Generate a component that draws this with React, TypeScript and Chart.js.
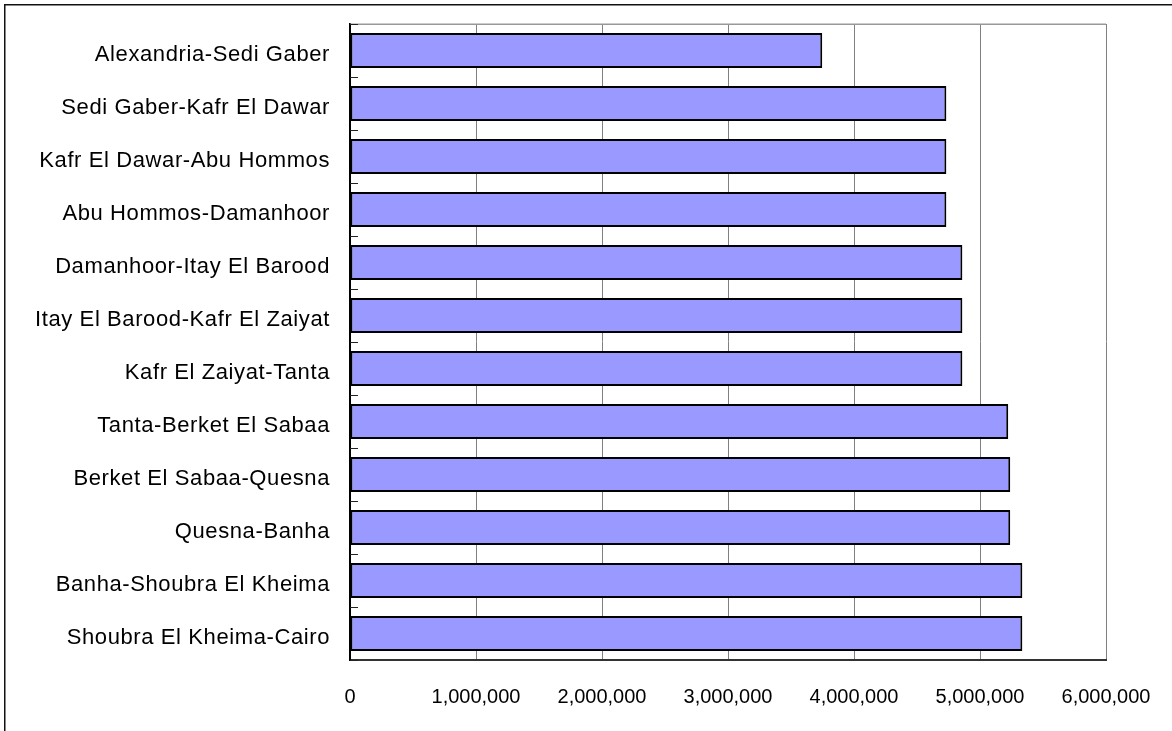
import React, { useEffect, useRef } from "react";
import { Chart, registerables } from "chart.js";

Chart.register(...registerables);

// Railway sections, north (Alexandria) to south (Cairo)
const sections: string[] = [
  "Alexandria-Sedi Gaber",
  "Sedi Gaber-Kafr El Dawar",
  "Kafr El Dawar-Abu Hommos",
  "Abu Hommos-Damanhoor",
  "Damanhoor-Itay El Barood",
  "Itay El Barood-Kafr El Zaiyat",
  "Kafr El Zaiyat-Tanta",
  "Tanta-Berket El Sabaa",
  "Berket El Sabaa-Quesna",
  "Quesna-Banha",
  "Banha-Shoubra El Kheima",
  "Shoubra El Kheima-Cairo",
];

// Value per section
const sectionValues: number[] = [
  3748000, 4733000, 4733000, 4733000, 4860000, 4860000, 4860000, 5224000,
  5240000, 5240000, 5336000, 5336000,
];

// Horizontal axis range and tick step
const axisMin = 0;
const axisMax = 6000000;
const axisStep = 1000000;

const W = 1172;
const H = 731;
const LABEL_FONT = "'Liberation Sans', Arial, sans-serif";

const formatNumber = (v: number) =>
  Math.round(v)
    .toString()
    .replace(/\B(?=(\d{3})+(?!\d))/g, ",");

// Frame around the figure, top border of the plot and short category ticks
const decorations = {
  id: "decorations",
  beforeDraw(chart: any) {
    const ctx = chart.ctx;
    ctx.save();
    ctx.fillStyle = "#ffffff";
    ctx.fillRect(0, 0, chart.width, chart.height);
    ctx.strokeStyle = "#111111";
    ctx.lineWidth = 1.5;
    ctx.beginPath();
    ctx.moveTo(4.75, chart.height + 5);
    ctx.lineTo(4.75, 4.75);
    ctx.lineTo(chart.width + 5, 4.75);
    ctx.stroke();
    ctx.restore();
  },
  afterDatasetsDraw(chart: any) {
    // slightly looser tracking for the category names drawn next
    (chart.ctx as any).letterSpacing = "0.6px";
  },
  afterDraw(chart: any) {
    const ctx = chart.ctx;
    (ctx as any).letterSpacing = "0px";
    const a = chart.chartArea;
    ctx.save();
    // top edge of the plot
    ctx.strokeStyle = "#999999";
    ctx.lineWidth = 1.5;
    ctx.beginPath();
    ctx.moveTo(a.left, a.top + 0.25);
    ctx.lineTo(a.right, a.top + 0.25);
    ctx.stroke();
    // category boundary ticks on the inside of the vertical axis
    const n = sections.length;
    const step = (a.bottom - a.top) / n;
    ctx.strokeStyle = "#222222";
    ctx.lineWidth = 1;
    for (let i = 0; i <= n; i++) {
      const y = Math.round(a.top + i * step) + 0.5;
      ctx.beginPath();
      ctx.moveTo(a.left, y);
      ctx.lineTo(a.left + 8, y);
      ctx.stroke();
    }
    ctx.restore();
  },
};

export default function App() {
  const canvasRef = useRef<HTMLCanvasElement | null>(null);

  useEffect(() => {
    if (!canvasRef.current) return;
    const chart = new Chart(canvasRef.current, {
      type: "bar",
      data: {
        labels: sections,
        datasets: [
          {
            data: sectionValues,
            backgroundColor: "#9999ff",
            borderColor: "#000000",
            borderWidth: 2,
            borderSkipped: false,
            barPercentage: 0.66,
            categoryPercentage: 1,
          },
        ],
      },
      options: {
        indexAxis: "y",
        responsive: false,
        animation: false,
        events: [],
        layout: { padding: { top: 24, right: 66, left: 0, bottom: 0 } },
        plugins: {
          legend: { display: false },
          tooltip: { enabled: false },
        },
        scales: {
          x: {
            type: "linear",
            min: axisMin,
            max: axisMax,
            afterFit: (scale: any) => {
              scale.height = 71;
              scale.paddingLeft = 0;
              scale.paddingRight = 0;
            },
            ticks: {
              stepSize: axisStep,
              padding: 25,
              color: "#000000",
              font: { family: LABEL_FONT, size: 20 },
              callback: (v: any) => formatNumber(Number(v)),
            },
            grid: {
              color: "#808080",
              lineWidth: 1,
              drawTicks: false,
            },
            border: { color: "#333333", width: 2 },
          },
          y: {
            type: "category",
            afterFit: (scale: any) => {
              scale.width = 350;
              scale.paddingTop = 0;
              scale.paddingBottom = 0;
            },
            ticks: {
              padding: 20,
              labelOffset: 4,
              z: 1,
              color: "#000000",
              font: { family: LABEL_FONT, size: 22 },
            },
            grid: { display: false, drawTicks: false },
            border: { color: "#000000", width: 2 },
          },
        },
      },
      plugins: [decorations],
    });
    return () => chart.destroy();
  }, []);

  return (
    <div style={{ position: "absolute", left: 0, top: 0, width: W, height: H }}>
      <canvas ref={canvasRef} width={W} height={H} />
    </div>
  );
}
